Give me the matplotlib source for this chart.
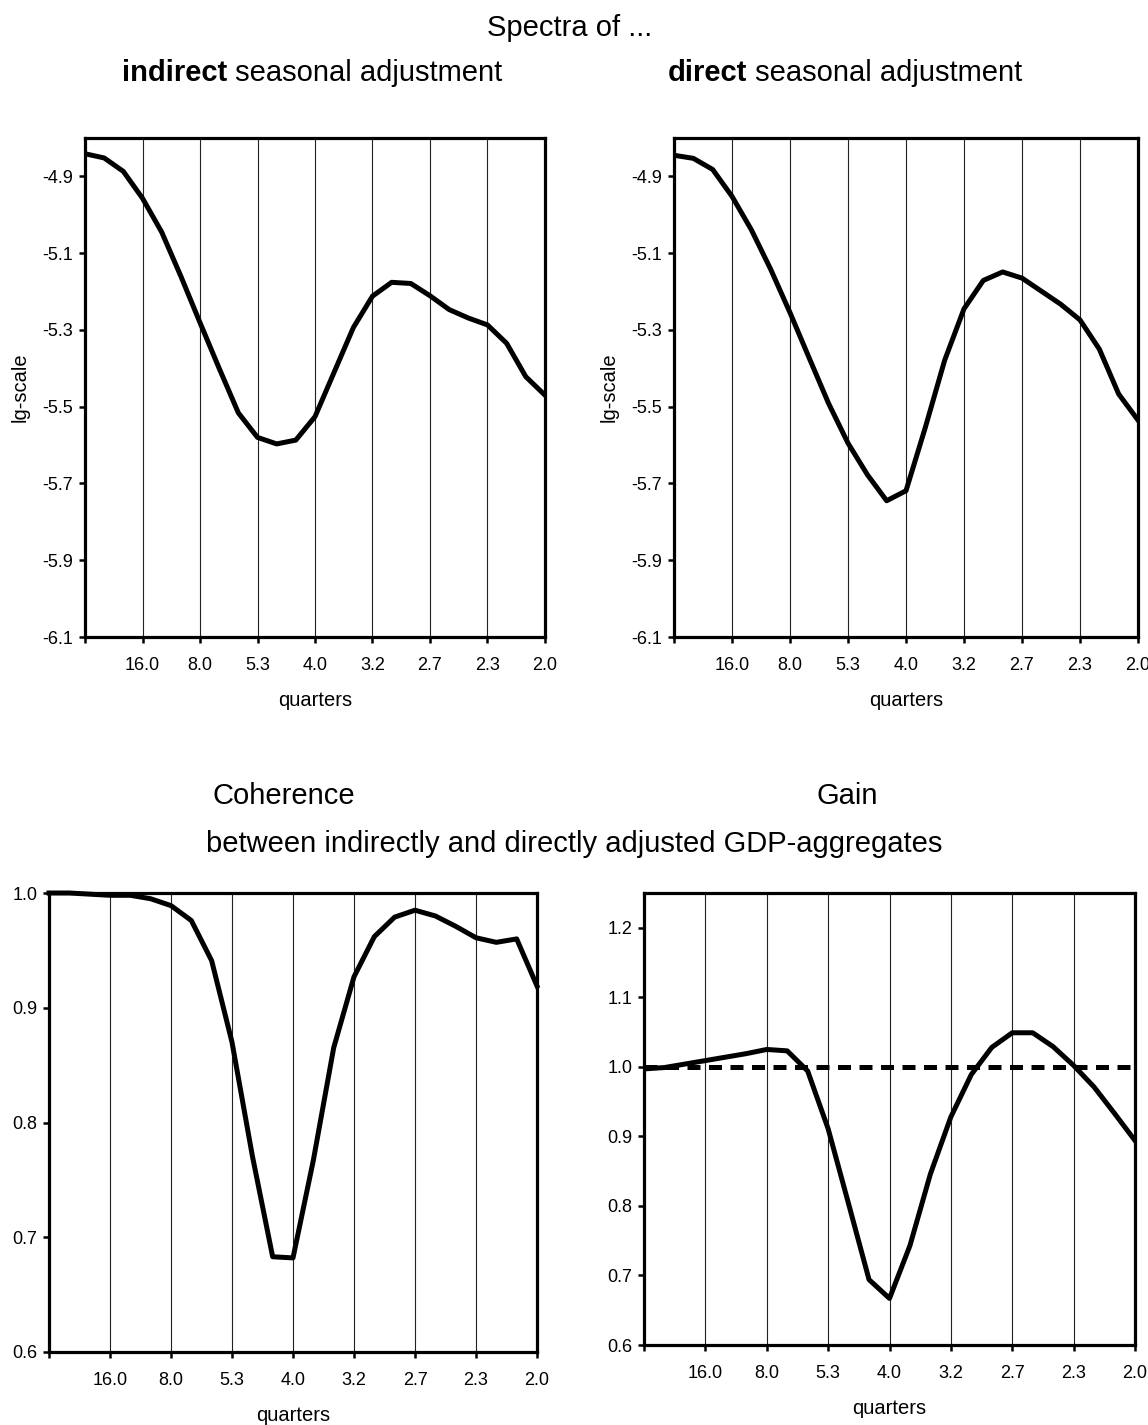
import numpy as np
import matplotlib.pyplot as plt

plt.rcParams['font.family'] = ['Liberation Sans', 'DejaVu Sans']

# frequency index 0..24 (k/48), ticks every 3 -> period in quarters
freq = np.arange(25)
tick_pos = [0, 3, 6, 9, 12, 15, 18, 21, 24]
tick_lab = ['', '16.0', '8.0', '5.3', '4.0', '3.2', '2.7', '2.3', '2.0']

spec_indirect = [-4.841, -4.852, -4.887, -4.957, -5.045, -5.160, -5.281, -5.400, -5.516,
                 -5.580, -5.597, -5.587, -5.526, -5.410, -5.294, -5.212, -5.176, -5.179,
                 -5.211, -5.247, -5.269, -5.287, -5.335, -5.422, -5.470]
spec_direct = [-4.845, -4.853, -4.882, -4.952, -5.039, -5.142, -5.255, -5.374, -5.492,
               -5.595, -5.677, -5.745, -5.719, -5.554, -5.379, -5.245, -5.171, -5.149,
               -5.165, -5.199, -5.233, -5.274, -5.350, -5.467, -5.535]
coherence = [1.000, 1.000, 0.999, 0.998, 0.998, 0.995, 0.989, 0.976, 0.941, 0.870,
             0.771, 0.683, 0.682, 0.767, 0.865, 0.927, 0.962, 0.979, 0.985, 0.980,
             0.971, 0.961, 0.957, 0.960, 0.919]
gain = [0.997, 0.999, 1.004, 1.009, 1.014, 1.019, 1.025, 1.023, 0.994, 0.911,
        0.803, 0.694, 0.667, 0.743, 0.846, 0.928, 0.989, 1.028, 1.049, 1.049,
        1.029, 1.002, 0.971, 0.933, 0.894]
gain_ref = [1.0] * 25

W, H = 1148, 1425
fig = plt.figure(figsize=(W / 100, H / 100), dpi=100)


def box(l, r, t, b):
    return [l / W, 1 - b / H, (r - l) / W, (b - t) / H]


def style(ax, ylim, yticks, ylabel=None):
    ax.set_xlim(0, 24)
    ax.set_ylim(*ylim)
    ax.set_xticks(tick_pos)
    ax.set_xticklabels(tick_lab)
    ax.set_yticks(yticks)
    ax.set_yticklabels(['%.1f' % v for v in yticks])
    ax.tick_params(direction='out', length=4.5, width=1.8, labelsize=13)
    ax.tick_params(axis='x', pad=10)
    ax.tick_params(axis='y', pad=4)
    for s in ax.spines.values():
        s.set_linewidth(2.3)
    ax.grid(axis='x', color='#222222', linewidth=0.8)
    ax.set_xlabel('quarters', fontsize=14.5, labelpad=12)
    if ylabel:
        ax.set_ylabel(ylabel, fontsize=14.5, labelpad=9)


ax1 = fig.add_axes(box(85, 545, 138, 637))
ax1.plot(freq, spec_indirect, color='black', lw=3.6)
style(ax1, (-6.1, -4.8), np.arange(-4.9, -6.11, -0.2), 'lg-scale')

ax2 = fig.add_axes(box(674, 1138, 138, 637))
ax2.plot(freq, spec_direct, color='black', lw=3.6)
style(ax2, (-6.1, -4.8), np.arange(-4.9, -6.11, -0.2), 'lg-scale')

ax3 = fig.add_axes(box(49, 537, 893, 1352))
ax3.plot(freq, coherence, color='black', lw=3.6, clip_on=False)
style(ax3, (0.6, 1.0), np.arange(0.6, 1.01, 0.1))

ax4 = fig.add_axes(box(644, 1135, 893, 1345))
ax4.plot(freq, gain_ref, color='black', lw=3.6, dashes=(2.6, 1.7))
ax4.plot(freq, gain, color='black', lw=3.6)
style(ax4, (0.6, 1.25), np.arange(0.6, 1.21, 0.1))

fs = 21
fig.text(570 / W, 1 - 36 / H, 'Spectra of ...', ha='center', va='baseline', fontsize=fs)
t1 = fig.text(122 / W, 1 - 81 / H, 'indirect', ha='left', va='baseline',
              fontsize=fs, fontweight='bold')
ax1.annotate(' seasonal adjustment', xy=(1, 0), xycoords=t1, va='bottom', fontsize=fs)
t2 = fig.text(668 / W, 1 - 81 / H, 'direct', ha='left', va='baseline',
              fontsize=fs, fontweight='bold')
ax2.annotate(' seasonal adjustment', xy=(1, 0), xycoords=t2, va='bottom', fontsize=fs)

fig.text(284 / W, 1 - 804 / H, 'Coherence', ha='center', va='baseline', fontsize=fs)
fig.text(847 / W, 1 - 804 / H, 'Gain', ha='center', va='baseline', fontsize=fs)
fig.text(574 / W, 1 - 852 / H, 'between indirectly and directly adjusted GDP-aggregates',
         ha='center', va='baseline', fontsize=fs)

fig.savefig('out.png', dpi=100)
